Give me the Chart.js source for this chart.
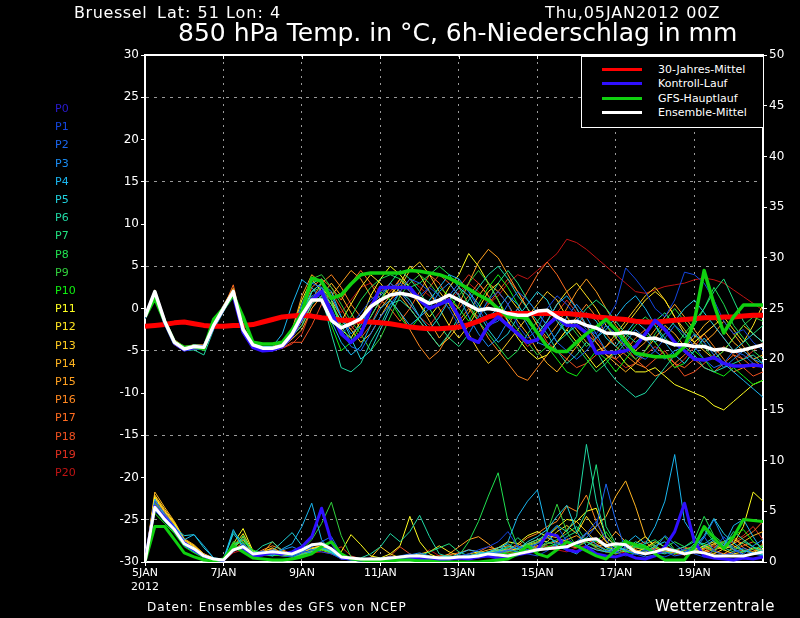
<!DOCTYPE html>
<html>
<head>
<meta charset="utf-8">
<title>850 hPa Temp. / 6h-Niederschlag Bruessel</title>
<script src="https://cdn.jsdelivr.net/npm/chart.js@4.4.0/dist/chart.umd.min.js"></script>
<style>
  body { margin: 0; background: #000; }
  #wrap { position: relative; width: 800px; height: 618px; background: #000; overflow: hidden;
          font-family: "DejaVu Sans", "Liberation Sans", sans-serif; color: #fff; }
  #c { position: absolute; left: 0; top: 0; }
  .t { position: absolute; white-space: nowrap; line-height: 1; }
  #legend { position: absolute; left: 581px; top: 56px; width: 181px; height: 70px;
            border: 1px solid #fff; background: #000; }
  .lg-line { position: absolute; left: 20px; width: 40px; height: 3px; }
  .lg-text { position: absolute; left: 76px; font-size: 11px; line-height: 1; }
</style>
</head>
<body>
<div id="wrap">
  <canvas id="c" width="800" height="618"></canvas>
  <div class="t" style="left:74px;top:5px;font-size:16px;letter-spacing:0.6px">Bruessel</div>
  <div class="t" style="left:157px;top:5px;font-size:16px;letter-spacing:1px">Lat: 51 Lon: 4</div>
  <div class="t" style="left:545px;top:5px;font-size:16px;letter-spacing:0.9px">Thu,05JAN2012 00Z</div>
  <div class="t" style="left:178px;top:20px;font-size:25px">850 hPa Temp. in °C, 6h-Niederschlag in mm</div>
  <div id="legend"></div>
  <div id="members"></div>
  <div class="t" style="left:147px;top:601px;font-size:12px;letter-spacing:1.1px">Daten: Ensembles des GFS von NCEP</div>
  <div class="t" style="left:655px;top:599px;font-size:15px;letter-spacing:0.6px">Wetterzentrale</div>
</div>
<script>
// x ticks every 2 days (8 steps of 6h), 64 steps = 5JAN 00Z .. 20JAN 18Z
const xTickSteps = [0, 8, 16, 24, 32, 40, 48, 56];
const dayLabels = ['5JAN', '7JAN', '9JAN', '11JAN', '13JAN', '15JAN', '17JAN', '19JAN'];
const yearLabel = '2012';

const memberNames = ['P0','P1','P2','P3','P4','P5','P6','P7','P8','P9','P10',
                     'P11','P12','P13','P14','P15','P16','P17','P18','P19','P20'];
const memberColors = ['#2a1ad0','#1446e0','#1a66f0','#1a8cf4','#1ab6f0','#20d0dc','#20d8a4','#20e080',
                      '#20e050','#30d03c','#10f010','#ffff20','#ffe420','#ffcc20','#ffb420','#ffa020',
                      '#ff8820','#ff6c20','#f05020','#e03020','#c01414'];

const legendNames = ['30-Jahres-Mittel', 'Kontroll-Lauf', 'GFS-Hauptlauf', 'Ensemble-Mittel'];
const legendColors = ['#ff0000', '#3010ff', '#10d010', '#ffffff'];

// 850 hPa temperature, one value per 6h step
const climTemp = [-2.1,-2.0,-1.9,-1.7,-1.6,-1.8,-2.0,-2.1, -2.1,-2.0,-2.0,-1.9,-1.6,-1.3,-1.0,-0.9,
                  -0.8,-0.9,-1.1,-1.2,-1.4,-1.4,-1.5,-1.6, -1.7,-1.8,-2.0,-2.2,-2.3,-2.4,-2.4,-2.3,
                  -2.2,-1.9,-1.5,-1.0,-0.7,-0.6,-0.6,-0.6, -0.6,-0.6,-0.6,-0.6,-0.7,-0.8,-1.0,-1.1,
                  -1.2,-1.3,-1.5,-1.6,-1.6,-1.5,-1.4,-1.3, -1.2,-1.1,-1.1,-1.0,-1.0,-0.9,-0.8,-0.8];
const controlTemp = [-1.0,1.8,-1.6,-4.1,-4.9,-4.6,-4.6,-2.0, 0.0,1.6,-2.8,-4.6,-5.0,-4.9,-4.5,-3.2,
                     -1.0,1.0,2.0,-0.5,-3.0,-4.0,-3.0,0.0, 2.5,2.5,2.5,2.5,1.0,0.0,0.5,1.0,
                     -1.0,-3.5,-4.0,-2.0,-1.0,-2.0,-3.0,-4.0, -3.7,-2.0,-1.0,-2.0,-2.0,-2.9,-5.3,-5.2,
                     -5.2,-5.0,-4.5,-3.0,-1.4,-2.5,-4.0,-5.0, -6.0,-6.1,-5.8,-6.5,-6.8,-6.8,-6.7,-6.8];
const gfsTemp = [-1.0,1.2,-1.5,-4.0,-4.6,-4.5,-4.8,-1.3, 0.0,1.6,-1.0,-4.0,-4.2,-4.2,-4.0,-2.5,
                 -0.5,3.6,3.2,1.2,1.6,2.9,4.0,4.2, 4.2,4.2,4.2,4.5,4.4,4.2,4.0,3.6,
                 3.0,2.3,1.6,1.0,0.0,-1.0,-1.0,-1.2, -2.9,-4.5,-5.1,-5.1,-4.0,-3.0,-2.2,-1.3,
                 -2.5,-4.0,-5.3,-5.5,-5.7,-5.7,-5.6,-4.5, -1.5,4.5,0.5,-2.9,-1.0,0.4,0.4,0.4];
const meanTemp = [-1.0,2.0,-1.5,-4.0,-4.8,-4.5,-4.6,-2.0, 0.0,2.0,-2.5,-4.3,-4.7,-4.7,-4.4,-3.0,
                  -0.8,1.0,1.0,-1.4,-2.3,-1.8,-1.2,0.2, 1.0,1.6,1.8,1.6,1.2,0.6,1.0,1.6,
                  1.0,0.4,-0.2,0.0,-0.2,-0.6,-0.8,-0.8, -0.3,-0.2,-1.0,-1.6,-1.5,-2.0,-2.3,-2.9,
                  -3.0,-2.8,-3.0,-3.6,-3.5,-3.9,-4.3,-4.3, -4.5,-4.5,-4.9,-4.8,-5.1,-4.9,-4.6,-4.3];
const memberTemp = [
  controlTemp,
  [-1.2,1.6,-1.8,-4.2,-5.0,-4.8,-4.9,-2.4, -0.3,1.7,-2.8,-4.6,-5.0,-5.0,-4.6,-3.4,
   -1.0,1.5,2.0,-0.5,-3.0,-2.0,-0.5,1.0, 2.0,2.5,3.0,2.0,1.5,2.5,1.5,0.0,
   -2.0,-3.0,-1.0,1.0,2.0,0.5,-2.0,-3.5, -2.5,0.0,1.5,0.5,-1.0,-2.5,-3.0,-1.5,
   0.5,4.8,3.5,2.0,0.0,-1.0,1.0,4.3, 4.0,3.0,1.0,-1.5,-3.0,-2.5,-4.0,-5.0],
  [-0.8,2.0,-1.3,-3.8,-4.7,-4.4,-4.5,-1.8, 0.2,2.2,-2.2,-4.2,-4.6,-4.6,-4.2,-2.6,
   0.5,3.0,2.5,0.0,-2.5,-4.5,-5.0,-3.0, -1.0,0.5,2.0,3.5,3.0,2.0,0.5,1.5,
   3.0,2.0,0.0,-2.0,-1.5,0.5,2.0,1.0, -0.5,-2.0,-4.0,-5.0,-6.0,-5.0,-3.5,-2.0,
   -3.0,-4.5,-5.5,-6.0,-5.0,-3.5,-2.0,-3.0, -4.5,-6.0,-7.0,-6.5,-5.0,-5.5,-6.5,-7.0],
  [-1.1,1.9,-1.6,-4.1,-4.9,-4.5,-4.6,-2.1, -0.1,1.9,-2.6,-4.4,-4.8,-4.9,-4.5,-3.1,
   -1.5,1.0,2.5,1.5,-1.0,-3.0,-2.0,0.5, 1.5,3.0,2.0,0.5,-1.0,0.0,2.0,3.0,
   1.5,-1.0,-3.0,-4.5,-3.5,-1.5,0.0,-2.0, -4.0,-4.5,-3.0,-1.0,0.5,-1.0,-3.0,-5.0,
   -5.5,-4.0,-2.5,-3.5,-5.0,-6.0,-5.0,-4.5, -3.0,-4.0,-5.5,-7.0,-6.0,-5.0,-6.0,-6.5],
  [-1.0,1.7,-1.4,-3.9,-4.6,-4.3,-4.4,-1.7, 0.3,2.1,-2.4,-4.3,-4.5,-4.5,-3.0,0.5,
   3.4,2.5,1.0,-1.5,-4.0,-5.5,-4.5,-2.0, 0.0,1.0,-0.5,-2.0,-1.0,1.0,2.5,4.0,
   3.5,2.0,0.5,-1.0,0.0,1.5,0.5,-1.5, -3.0,-1.5,0.5,1.5,0.0,-2.0,-3.5,-2.5,
   -1.0,0.5,1.5,0.0,-2.0,-4.0,-5.5,-6.5, -5.0,-3.5,-5.0,-6.5,-7.5,-8.5,-9.5,-10.5],
  [-0.9,1.8,-1.5,-4.0,-4.7,-4.6,-4.8,-2.2, -0.2,1.8,-2.7,-4.5,-4.9,-4.8,-4.4,-2.8,
   -0.5,2.0,3.0,2.0,-1.0,-3.5,-6.0,-5.0, -2.5,0.0,2.0,1.0,-1.0,-2.5,-1.0,1.0,
   2.5,1.5,-0.5,-2.5,-4.0,-3.0,-1.0,0.5, 2.0,1.0,-1.5,-3.0,-2.0,-0.5,-1.5,-3.5,
   -4.5,-3.0,-1.5,-2.5,-4.0,-3.0,-1.5,0.0, 1.0,-0.5,-2.0,-3.5,-5.0,-4.0,-3.0,-4.0],
  [-1.1,1.7,-1.7,-4.2,-5.0,-4.9,-5.5,-2.5, -0.4,1.6,-3.0,-4.7,-5.0,-5.0,-4.6,-3.3,
   -2.0,0.5,1.5,-3.0,-7.0,-7.5,-6.5,-4.0, -2.0,0.5,1.0,0.0,-1.5,-3.0,-4.5,-3.0,
   -1.0,1.0,2.5,4.0,5.0,3.5,1.5,0.0, -1.5,-3.0,-5.0,-6.5,-5.5,-4.0,-5.0,-7.0,
   -8.5,-9.5,-10.5,-10.0,-8.5,-7.0,-5.5,-4.5, -5.5,-7.0,-7.5,-7.0,-6.5,-6.0,-5.5,-6.5],
  [-1.0,1.9,-1.4,-3.9,-4.8,-4.4,-4.5,-1.9, 0.1,2.1,-2.3,-4.3,-4.7,-4.7,-4.3,-2.9,
   0.0,3.0,3.5,1.0,-2.0,-4.0,-3.0,-1.0, 1.0,3.0,4.5,3.5,2.0,0.0,-2.0,-3.5,
   -4.5,-3.0,-1.0,1.0,3.0,4.5,3.0,1.0, -0.5,-2.0,-4.0,-3.0,-1.5,0.0,1.0,0.0,
   -1.5,-3.0,-4.0,-3.0,-1.5,-0.5,-2.0,-3.5, -2.0,0.0,2.0,3.5,1.0,-1.5,-3.0,-2.0],
  [-1.2,1.6,-1.7,-4.1,-4.9,-4.7,-4.9,-2.3, -0.2,1.8,-2.6,-4.5,-4.9,-4.8,-4.5,-3.2,
   -1.0,2.0,2.5,0.5,-2.0,-1.0,1.0,2.5, 3.5,4.0,3.5,2.5,3.0,4.0,5.0,4.0,
   2.5,0.5,-1.5,-3.0,-4.5,-6.0,-5.0,-3.0, -1.5,0.0,-1.0,-3.0,-4.5,-6.0,-7.5,-6.5,
   -5.0,-3.5,-2.0,-1.0,-2.0,-3.5,-4.5,-3.0, -1.5,0.0,2.5,0.5,-2.0,-3.5,-5.0,-6.0],
  [-0.9,2.0,-1.3,-3.8,-4.6,-4.4,-4.4,-1.6, 0.3,2.2,-2.3,-4.2,-4.6,-4.6,-4.2,-2.7,
   0.5,3.5,4.0,2.5,0.5,-1.5,-3.0,-5.0, -3.5,-1.0,1.5,3.0,4.0,3.0,1.5,0.0,
   1.5,3.0,4.5,3.0,1.0,-1.0,-2.5,-4.0, -5.5,-4.5,-3.0,-1.5,-3.0,-4.5,-3.5,-2.0,
   -3.5,-5.0,-6.0,-5.0,-3.0,-1.5,0.0,-1.5, -3.0,-4.5,-6.0,-5.0,-3.5,-2.0,-1.0,-1.5],
  [-1.0,1.8,-1.6,-4.0,-4.8,-4.5,-4.6,-2.0, 0.0,2.0,-2.5,-4.4,-4.8,-4.8,-4.4,-3.0,
   -1.0,1.5,1.0,-2.0,-5.0,-4.0,-2.0,0.0, 2.0,1.0,-1.0,-2.5,-1.0,1.0,2.5,1.5,
   0.0,-1.5,0.5,2.5,4.0,2.5,0.5,-1.5, -3.0,-4.5,-6.0,-7.5,-8.0,-6.5,-5.0,-6.0,
   -7.5,-6.0,-4.5,-3.0,-4.0,-5.5,-7.0,-6.5, -5.0,-6.0,-7.5,-8.0,-7.0,-8.0,-9.0,-8.5],
  [-1.1,1.9,-1.5,-4.0,-4.8,-4.6,-4.7,-2.1, -0.1,1.9,-2.6,-4.5,-4.9,-4.8,-4.5,-3.2,
   -1.5,2.0,3.0,1.0,-2.5,-3.5,-1.5,1.5, 3.5,5.0,4.0,2.5,0.5,-1.0,0.5,2.5,
   4.0,6.5,5.0,3.0,1.0,-1.5,-3.5,-5.0, -6.0,-5.5,-4.0,-2.5,-4.0,-5.5,-7.0,-6.0,
   -5.0,-6.5,-7.5,-7.5,-7.0,-8.0,-9.0,-9.5, -10.0,-10.5,-11.5,-12.0,-11.0,-10.0,-9.0,-8.5],
  [-0.9,2.1,-1.3,-3.8,-4.6,-4.3,-4.4,-1.7, 0.2,2.2,-2.2,-4.2,-4.6,-4.6,-4.2,-2.6,
   1.0,3.5,2.0,0.5,-1.5,0.5,2.5,4.0, 3.0,1.5,3.0,5.0,4.0,2.0,0.0,-2.0,
   -3.5,-2.0,0.0,2.0,3.0,1.5,0.0,-1.5, -3.0,-1.5,0.5,2.0,3.0,1.5,0.0,-2.0,
   -3.5,-2.0,-0.5,1.0,2.0,1.0,-1.0,-3.0, -4.0,-3.0,-2.0,-1.0,-2.5,-4.0,-2.0,0.5],
  [-1.0,1.8,-1.6,-4.1,-4.8,-4.6,-4.6,-2.0, 0.0,2.0,-2.5,-4.4,-4.8,-4.8,-4.5,-3.3,
   -2.0,0.5,2.5,1.0,-1.0,-2.5,-4.0,-3.0, -1.0,1.0,2.5,4.5,5.5,4.0,2.0,0.5,
   -1.5,-3.0,-5.0,-6.5,-5.5,-4.0,-2.5,-1.0, 0.5,2.0,1.0,-1.0,-2.5,-4.0,-5.0,-4.5,
   -3.0,-1.5,0.0,1.5,2.5,1.0,-1.0,-2.5, -4.0,-5.0,-6.0,-5.0,-3.5,-2.0,-3.0,-4.0],
  [-1.2,1.7,-1.8,-4.3,-5.0,-4.8,-4.8,-2.2, -0.3,1.8,-2.7,-4.6,-5.0,-5.0,-4.6,-3.6,
   -2.5,0.0,1.5,3.0,1.5,-0.5,-2.5,-1.0, 1.0,2.5,1.5,0.0,-1.5,-3.0,-4.5,-3.5,
   -2.0,-0.5,1.5,3.0,2.0,0.5,-1.5,-3.0, -5.0,-6.5,-7.5,-6.0,-4.5,-3.0,-4.0,-5.5,
   -6.5,-7.5,-6.5,-5.0,-3.5,-2.0,-3.0,-4.5, -3.5,-2.0,-1.0,-2.5,-4.0,-5.0,-6.0,-5.5],
  [-0.8,2.2,-1.2,-3.7,-4.5,-4.3,-4.3,-1.6, 0.4,2.4,-2.1,-4.1,-4.5,-4.5,-4.1,-2.5,
   1.5,4.0,3.0,1.5,3.0,4.5,3.5,1.5, 0.0,1.5,3.5,2.0,0.5,-1.5,-3.5,-2.0,
   0.5,3.0,5.5,7.0,6.0,4.0,2.0,0.0, -2.0,-3.5,-2.0,0.0,2.0,3.5,2.0,0.0,
   -2.0,-3.5,-5.0,-4.0,-2.5,-1.0,0.5,-1.0, -2.5,-4.0,-3.0,-1.5,-3.0,-4.5,-6.0,-7.0],
  [-1.1,1.8,-1.7,-4.2,-4.9,-4.7,-4.7,-2.2, -0.2,2.0,-2.6,-4.5,-4.9,-4.9,-4.6,-3.4,
   -1.5,1.0,3.0,4.0,2.5,0.5,-1.0,0.5, 2.0,1.0,-0.5,-2.5,-4.5,-6.0,-5.0,-3.0,
   -1.5,0.0,-1.5,-3.5,-5.0,-6.5,-8.0,-8.5, -7.0,-5.5,-4.0,-2.5,-1.0,0.5,-1.0,-3.0,
   -4.5,-5.5,-6.5,-7.0,-8.0,-7.5,-6.5,-5.5, -4.0,-3.0,-4.5,-6.0,-7.5,-7.0,-6.5,-7.0],
  [-1.0,1.9,-1.5,-4.0,-4.7,-4.5,-4.5,-1.9, 0.1,2.8,-2.4,-4.3,-4.7,-4.7,-4.3,-3.1,
   -0.5,2.5,3.5,2.5,1.0,3.0,4.5,3.0, 1.0,0.0,-1.5,0.0,2.0,4.0,3.0,1.0,
   0.0,1.5,3.0,1.5,-0.5,-2.0,0.0,2.0, 4.0,5.5,4.0,2.0,0.0,-2.0,-4.0,-5.5,
   -6.0,-5.0,-3.5,-2.5,-4.0,-5.5,-6.5,-7.0, -6.0,-7.0,-7.5,-6.5,-5.5,-6.0,-7.0,-6.5],
  [-1.1,1.7,-1.6,-4.1,-4.9,-4.7,-4.8,-2.3, -0.3,1.7,-2.8,-4.6,-5.0,-5.0,-4.7,-4.0,
   -4.0,-2.0,0.5,2.0,0.0,-2.0,-3.5,-2.0, 0.5,2.0,3.5,2.5,1.0,2.5,4.0,3.0,
   1.5,0.0,-1.0,0.5,2.0,3.5,2.0,0.0, -2.0,-4.0,-5.0,-6.0,-7.0,-6.5,-5.5,-4.5,
   -3.5,-4.5,-6.0,-7.0,-6.0,-5.0,-6.5,-8.0, -7.5,-6.5,-5.5,-4.5,-5.5,-7.0,-8.0,-7.5],
  [-1.0,1.8,-1.6,-4.1,-4.8,-4.6,-4.7,-2.1, -0.1,1.9,-2.6,-4.5,-4.9,-4.9,-4.7,-4.2,
   -3.0,0.0,1.5,0.5,-1.5,-2.5,-1.0,0.5, 2.0,3.0,2.0,0.5,-1.0,-2.0,-0.5,1.0,
   2.5,4.0,3.0,1.5,0.0,-1.5,-3.0,-4.5, -3.5,-2.0,-0.5,1.0,-0.5,-2.0,-3.5,-5.0,
   -6.0,-7.0,-6.5,-5.5,-4.5,-5.5,-7.0,-6.0, -4.5,-3.0,-2.0,-3.5,-5.0,-6.0,-5.0,-4.0],
  [-1.0,1.9,-1.4,-3.9,-4.7,-4.5,-4.6,-2.0, 0.0,1.9,-2.5,-4.4,-4.8,-4.8,-4.5,-3.2,
   -1.5,0.5,2.0,1.0,-0.5,1.0,2.5,3.0, 2.0,1.0,2.0,3.5,2.5,1.5,0.5,1.0,
   2.0,3.0,2.0,0.5,1.5,3.0,4.0,3.5, 4.5,5.5,6.5,8.2,7.8,7.0,6.0,5.0,
   4.0,3.0,2.0,1.8,2.2,2.6,2.8,3.0, 3.4,3.6,3.4,3.0,2.2,1.4,0.6,-0.2]
];

// 6h precipitation in mm
const controlPrec = [0,5.5,4.4,3.3,1.9,1.2,0.6,0.2, 0.2,1.4,1.2,0.6,0.7,0.9,0.8,1.0,
                     1.5,2.5,5.3,2.0,0.4,0.3,0.2,0.3, 0.2,0.3,0.4,0.5,0.4,0.3,0.2,0.3,
                     0.4,0.3,0.5,0.6,0.4,0.5,0.7,0.9, 1.2,2.8,2.6,1.2,1.0,1.5,0.8,0.6,
                     0.5,0.8,0.4,0.3,0.6,1.5,3.0,5.8, 2.0,0.6,0.4,0.3,0.2,0.4,0.3,0.5];
const gfsPrec = [0,3.5,3.5,2.2,0.9,0.5,0.2,0.1, 0.3,1.6,1.0,0.4,0.3,0.2,0.2,0.3,
                 0.5,0.8,1.5,2.0,0.8,0.3,0.2,0.1, 0.1,0.1,0.2,0.2,0.1,0.1,0.0,0.0,
                 0.0,0.0,0.0,0.1,0.2,0.3,0.8,1.6, 0.8,0.5,1.2,2.0,1.6,1.1,0.6,0.3,
                 1.2,2.0,1.7,1.5,0.8,0.2,0.2,0.2, 1.5,3.5,2.4,1.3,2.5,4.2,4.1,4.0];
const meanPrec = [0,5.4,4.2,3.2,1.8,1.3,0.6,0.3, 0.2,1.2,1.5,0.8,0.9,1.0,0.9,0.8,
                  1.2,1.7,1.8,1.3,0.5,0.4,0.3,0.3, 0.3,0.4,0.5,0.6,0.6,0.5,0.4,0.4,
                  0.5,0.5,0.6,0.8,0.7,0.6,0.8,1.0, 1.2,1.3,1.4,1.5,1.9,2.2,2.3,1.6,
                  1.8,1.7,1.0,0.8,1.0,1.3,1.1,0.8, 1.0,0.9,0.6,0.6,0.6,0.6,0.8,1.0];
const memberPrec = [
  controlPrec,
  [0,5.0,4.2,3.0,1.7,1.1,0.5,0.2, 0.1,1.0,1.8,0.8,1.1,0.9,0.6,0.5, 0.9,1.2,1.0,0.8,0.3,0.2,0.1,0.2,
   0.3,0.5,0.4,0.3,0.6,0.5,0.2,0.3, 0.6,0.8,1.2,1.5,2.0,3.0,1.5,0.8, 0.6,1.1,1.8,2.4,1.6,2.8,4.0,2.2,
   1.0,0.6,0.8,1.2,0.7,0.5,0.9,1.3, 0.8,0.5,1.2,2.5,1.4,0.6,0.8,1.0],
  [0,6.0,4.8,3.5,2.0,1.4,0.7,0.3, 0.2,1.1,1.5,0.6,0.8,1.2,0.9,0.6, 1.0,1.5,2.0,2.5,0.8,0.4,0.3,0.2,
   0.2,0.3,0.6,0.8,0.5,0.4,0.3,0.2, 0.3,0.4,0.5,0.6,0.9,1.1,1.6,1.2, 1.8,2.6,3.6,2.0,1.5,2.4,3.5,7.7,
   4.0,1.2,0.8,0.5,0.7,1.0,0.6,0.8, 1.6,2.5,1.1,0.7,0.9,1.4,0.8,0.6],
  [0,5.2,4.0,3.0,1.6,1.0,0.5,0.2, 0.1,1.3,1.6,0.9,1.0,0.8,1.2,1.5, 1.1,0.9,1.4,1.2,0.5,0.3,0.2,0.1,
   0.2,0.4,0.3,0.7,0.9,0.6,0.4,0.3, 0.5,0.7,0.6,0.9,1.0,1.2,1.0,1.5, 1.8,2.5,1.9,1.3,2.0,2.9,1.7,1.1,
   0.9,1.5,1.0,0.7,1.3,2.6,1.8,1.0, 1.2,2.4,4.2,2.2,1.2,0.8,1.6,2.2],
  [0,6.2,4.6,3.6,2.2,2.7,1.6,0.4, 0.3,3.2,1.4,0.7,0.9,0.6,1.3,1.8, 3.5,5.8,2.2,1.0,0.4,0.3,0.2,0.3,
   0.4,0.5,0.3,0.6,0.7,0.5,0.3,0.4, 0.8,1.2,1.0,0.8,1.0,2.0,4.5,6.0, 7.1,3.0,1.5,1.2,0.8,1.6,2.2,1.4,
   1.0,1.8,2.6,1.8,3.5,6.0,10.6,4.0, 2.5,1.5,2.2,1.6,3.6,4.2,2.5,1.0],
  [0,5.6,4.4,3.4,2.6,2.7,1.4,0.4, 0.2,2.8,1.6,0.8,1.0,1.1,2.0,2.9, 1.6,1.2,1.5,0.9,0.4,0.3,0.2,0.2,
   0.3,0.4,0.4,0.5,0.4,0.3,0.5,0.6, 0.4,0.6,0.8,1.0,1.4,1.8,1.2,2.0, 2.5,3.2,4.5,5.6,3.0,1.6,1.2,1.0,
   1.4,1.2,0.8,1.0,1.6,2.0,1.1,0.8, 1.4,2.6,4.3,2.8,1.9,1.1,0.9,0.7],
  [0,5.3,4.1,3.2,1.8,1.2,0.6,0.3, 0.2,3.0,1.9,0.8,1.6,2.0,1.0,0.7, 1.0,1.6,1.8,1.1,0.5,0.3,0.4,0.8,
   1.5,2.8,2.0,3.0,4.6,2.5,0.8,0.5, 0.4,0.6,0.8,1.0,1.2,1.5,1.3,1.8, 2.2,2.6,3.6,3.0,4.5,11.6,6.0,2.5,
   1.5,1.2,2.0,1.6,1.0,0.8,1.2,1.5, 2.0,1.8,2.4,1.6,3.0,2.2,1.5,1.0],
  [0,5.4,4.3,3.1,1.7,1.1,0.5,0.2, 0.1,1.6,2.3,1.0,0.8,0.7,0.9,0.6, 0.8,1.0,1.3,1.0,0.4,0.2,0.2,0.1,
   0.2,0.3,0.5,0.4,0.6,1.0,1.4,1.8, 1.0,0.6,0.5,0.8,1.1,1.4,2.4,1.6, 1.3,2.0,1.6,2.5,3.0,5.0,9.6,3.5,
   1.8,1.0,1.5,1.8,2.2,1.4,1.0,0.9, 1.8,3.2,2.0,1.4,1.0,2.0,1.5,0.8],
  [0,5.8,4.6,3.4,1.9,1.3,0.6,0.3, 0.2,1.2,2.6,0.9,0.7,0.6,0.8,0.5, 0.7,1.1,1.4,1.0,0.5,0.3,0.2,0.2,
   0.3,0.4,0.3,0.4,0.5,0.3,0.2,0.4, 0.6,2.0,4.0,6.5,8.8,4.0,1.5,1.0, 1.2,1.8,2.2,2.8,3.5,2.0,1.6,1.2,
   1.6,2.2,1.5,1.2,0.9,1.4,2.0,1.5, 2.2,4.5,2.6,1.8,1.2,1.0,1.3,1.6],
  [0,5.1,4.0,2.9,1.6,1.0,0.5,0.2, 0.2,2.0,1.8,0.6,0.9,1.1,0.8,0.6, 1.2,2.2,3.8,5.9,2.6,0.5,0.3,0.2,
   0.2,0.3,0.4,0.5,0.6,0.4,0.3,0.3, 0.4,0.5,0.7,0.6,0.8,1.0,1.2,1.6, 2.0,3.0,5.7,3.0,1.5,2.0,1.4,1.0,
   0.8,1.2,1.6,1.3,1.8,2.5,1.2,0.8, 1.1,1.5,1.0,2.0,1.4,1.2,0.9,1.1],
  [0,4.8,3.8,2.8,1.5,0.9,0.4,0.2, 0.1,1.8,2.0,1.2,0.8,0.7,0.6,0.5, 0.6,0.9,1.2,0.9,0.3,0.2,0.1,0.1,
   0.2,0.2,0.3,0.4,0.3,0.2,0.2,0.3, 0.3,0.4,0.5,0.7,0.9,0.8,1.0,1.2, 1.0,1.5,1.8,1.4,1.9,2.4,2.0,3.0,
   1.6,1.0,0.8,1.2,1.5,1.0,0.8,1.2, 1.5,1.8,1.2,2.0,2.6,3.2,2.0,1.4],
  [0,6.4,5.0,3.8,2.0,1.4,0.7,0.3, 0.2,1.8,3.3,1.1,0.8,1.0,0.7,0.6, 0.9,1.3,1.6,1.2,1.0,2.7,1.7,0.6,
   0.4,0.8,1.6,4.5,2.0,0.8,0.4,0.6, 0.5,0.8,1.0,0.9,1.4,2.0,1.8,2.6, 3.0,2.5,3.4,4.2,4.0,5.0,5.3,2.5,
   1.5,1.2,0.9,1.4,2.0,1.5,1.0,0.8, 1.2,1.6,2.0,1.4,1.8,3.5,6.9,6.0],
  [0,5.7,4.5,3.6,2.1,1.5,0.7,0.3, 0.2,1.5,2.8,1.0,0.9,0.8,0.7,0.5, 0.8,1.0,1.2,0.9,0.5,0.4,0.3,0.3,
   0.2,0.3,0.4,0.6,0.8,1.0,1.6,1.0, 0.6,0.5,0.7,0.9,1.2,1.0,1.4,1.8, 2.2,2.0,3.0,3.6,2.8,4.5,3.2,2.0,
   1.4,1.2,1.8,2.5,1.6,1.0,0.8,1.1, 0.9,1.4,1.8,1.2,0.8,1.0,1.4,1.2],
  [0,6.6,5.2,3.9,2.2,1.6,0.8,0.3, 0.2,1.4,2.2,0.9,1.0,1.4,0.9,0.6, 0.9,1.1,1.3,1.0,0.4,0.3,0.2,0.4,
   1.5,0.8,0.4,0.3,0.5,0.4,0.3,0.2, 0.4,0.6,0.8,1.0,1.1,1.3,1.0,1.6, 1.9,2.4,2.0,3.2,4.0,3.0,2.0,1.5,
   1.2,1.0,1.4,1.2,0.9,1.3,1.1,0.7, 1.0,1.2,0.8,1.3,1.6,1.1,0.9,1.5],
  [0,6.9,5.4,4.0,2.3,1.7,0.8,0.4, 0.2,1.3,2.5,0.8,0.9,2.0,1.1,0.7, 1.0,1.4,1.6,1.1,0.5,0.3,0.3,0.2,
   0.2,0.3,0.5,0.4,0.3,0.4,0.5,0.4, 0.4,0.6,0.9,1.2,1.4,1.6,1.3,1.7, 2.0,2.6,2.4,2.0,1.8,2.8,3.5,4.5,
   6.5,8.0,5.5,2.5,1.4,1.0,1.2,0.9, 1.3,1.5,1.0,0.8,1.4,2.0,2.6,3.0],
  [0,6.3,4.9,3.7,2.1,1.5,0.7,0.3, 0.2,1.2,1.9,0.8,1.1,1.3,0.8,0.6, 0.8,1.0,1.3,0.9,0.4,0.3,0.2,0.2,
   0.3,0.3,0.4,0.5,0.6,0.5,0.4,0.8, 1.5,2.2,2.5,1.8,1.0,1.2,1.8,1.4, 1.6,1.2,1.8,2.2,2.6,2.0,1.5,1.8,
   3.0,2.0,1.2,0.9,1.1,1.4,1.0,0.8, 1.1,1.6,1.2,1.5,2.2,1.8,1.2,1.0],
  [0,6.1,4.8,3.6,2.0,1.4,0.7,0.3, 0.2,1.1,1.7,0.7,1.2,1.6,1.2,0.8, 1.1,1.3,1.5,1.0,0.4,0.3,0.2,0.2,
   0.2,0.3,0.3,0.4,0.5,0.4,0.3,0.3, 0.4,0.5,0.6,0.8,1.0,1.2,1.6,2.4, 2.8,3.5,4.0,5.5,5.0,6.6,4.0,2.0,
   1.5,1.2,0.9,1.0,1.4,1.1,0.9,1.3, 1.5,1.0,1.8,2.0,2.5,1.4,1.0,1.8],
  [0,6.5,5.1,3.8,2.2,1.6,0.8,0.3, 0.2,1.0,1.6,0.8,1.0,0.9,0.7,0.5, 0.8,1.2,1.4,1.1,0.5,0.3,0.2,0.3,
   0.2,0.3,0.4,0.5,0.4,0.5,0.6,0.7, 0.9,1.2,1.0,1.5,1.2,1.0,1.3,1.1, 1.5,1.8,2.0,1.6,1.4,2.2,1.8,1.2,
   1.0,1.4,1.6,2.0,1.2,0.9,1.1,1.5, 1.0,1.3,1.6,1.2,1.8,2.4,3.0,4.0],
  [0,5.9,4.7,3.5,2.0,1.3,0.6,0.3, 0.2,1.2,1.5,0.6,0.8,1.0,0.9,0.7, 1.3,1.0,1.2,0.8,0.4,0.3,0.2,0.2,
   0.3,0.6,1.5,0.8,0.5,0.3,0.2,0.3, 0.4,0.5,0.4,0.6,0.8,1.0,0.9,1.2, 1.4,1.6,1.2,1.8,1.5,2.0,1.6,2.5,
   1.6,1.0,1.2,0.8,1.0,1.5,1.2,0.9, 1.2,1.0,1.4,1.8,1.2,1.6,2.0,1.4],
  [0,5.6,4.4,3.3,1.9,1.3,0.6,0.3, 0.2,1.1,1.4,0.7,0.9,1.2,1.0,0.8, 1.0,1.1,1.2,1.0,1.5,0.6,0.3,0.2,
   0.2,0.3,0.4,0.3,0.4,0.5,0.4,0.3, 0.4,0.6,0.5,0.7,0.9,1.1,1.3,1.0, 1.2,1.4,1.6,2.0,1.5,1.2,1.4,1.0,
   0.8,1.2,1.0,1.4,1.2,1.0,0.8,1.2, 1.0,1.4,1.2,1.6,2.0,2.6,3.5,2.2],
  [0,5.5,4.3,3.2,1.8,1.2,0.6,0.2, 0.1,0.9,1.2,0.6,0.7,0.8,0.6,0.5, 0.7,0.9,1.0,0.8,0.4,0.3,0.2,0.2,
   0.2,0.3,0.3,0.4,0.6,1.2,0.6,0.3, 0.3,0.4,0.5,0.6,0.7,0.8,0.9,1.0, 1.1,1.3,1.2,1.0,1.4,1.6,1.2,1.0,
   0.8,1.0,1.2,0.9,1.5,1.0,0.8,0.7, 0.9,1.0,1.2,0.8,1.0,1.2,0.9,1.1]
];

const steps = controlTemp.map((v, i) => i);
const FONT = '"DejaVu Sans", "Liberation Sans", sans-serif';

// outer labels: member names and legend box
const membersDiv = document.getElementById('members');
memberNames.forEach((name, i) => {
  const el = document.createElement('div');
  el.className = 't';
  el.style.cssText = `left:55px;top:${103 + i * 18.2}px;font-size:11px;color:${memberColors[i]}`;
  el.textContent = name;
  membersDiv.appendChild(el);
});
const legendDiv = document.getElementById('legend');
legendNames.forEach((name, i) => {
  const line = document.createElement('div');
  line.className = 'lg-line';
  line.style.top = (11 + i * 14.3) + 'px';
  line.style.background = legendColors[i];
  legendDiv.appendChild(line);
  const txt = document.createElement('div');
  txt.className = 'lg-text';
  txt.style.top = (7 + i * 14.3) + 'px';
  txt.textContent = name;
  legendDiv.appendChild(txt);
});

function line(data, color, width, axis, order) {
  return {
    data: data, borderColor: color, borderWidth: width, yAxisID: axis, order: order,
    pointRadius: 0, tension: 0, fill: false, borderJoinStyle: 'round'
  };
}

const datasets = [];
memberTemp.forEach((d, i) => datasets.push(line(d, memberColors[i], 1, 'y', 20)));
memberPrec.forEach((d, i) => datasets.push(line(d, memberColors[i], 1, 'y2', 20)));
datasets.push(line(climTemp, legendColors[0], 5, 'y', 4));
datasets.push(line(controlTemp, legendColors[1], 3.5, 'y', 3));
datasets.push(line(gfsTemp, legendColors[2], 3.5, 'y', 2));
datasets.push(line(meanTemp, legendColors[3], 3.5, 'y', 1));
datasets.push(line(controlPrec, legendColors[1], 3, 'y2', 3));
datasets.push(line(gfsPrec, legendColors[2], 3, 'y2', 2));
datasets.push(line(meanPrec, legendColors[3], 3, 'y2', 1));

// frame top edge with small inward ticks
const framePlugin = {
  id: 'frame',
  afterDatasetsDraw(chart) {
    const {ctx, chartArea: a, scales} = chart;
    ctx.save();
    ctx.strokeStyle = '#fff';
    ctx.lineWidth = 2;
    ctx.beginPath();
    ctx.moveTo(a.left, a.top);
    ctx.lineTo(a.right, a.top);
    ctx.stroke();
    ctx.lineWidth = 1;
    xTickSteps.slice(1).forEach(v => {
      const x = Math.round(scales.x.getPixelForValue(v)) + 0.5;
      ctx.beginPath();
      ctx.moveTo(x, a.top);
      ctx.lineTo(x, a.top + 4);
      ctx.stroke();
    });
    ctx.restore();
  }
};

new Chart(document.getElementById('c'), {
  type: 'line',
  data: { labels: steps, datasets: datasets },
  plugins: [framePlugin],
  options: {
    responsive: false,
    animation: false,
    layout: { padding: { top: 55, left: 0, right: 0, bottom: 0 } },
    plugins: { legend: { display: false }, tooltip: { enabled: false } },
    scales: {
      x: {
        type: 'linear', min: 0, max: 63,
        afterBuildTicks: s => { s.ticks = xTickSteps.map(v => ({ value: v })); },
        afterFit: s => { s.height = 56; },
        grid: {
          color: c => (c.tick && c.tick.value === 0) ? 'rgba(0,0,0,0)' : '#9a9a9a',
          lineWidth: 1, tickColor: '#fff', tickLength: 4
        },
        border: { color: '#fff', width: 2, dash: [2, 5] },
        ticks: {
          color: '#fff', font: { family: FONT, size: 11 }, maxRotation: 0, autoSkip: false, padding: 1,
          callback: v => {
            const i = xTickSteps.indexOf(v);
            return i === 0 ? [dayLabels[0], yearLabel] : dayLabels[i];
          }
        }
      },
      y: {
        position: 'left', min: -30, max: 30,
        afterFit: s => { s.width = 145; },
        grid: {
          color: c => (c.tick && Math.abs(c.tick.value) % 10 === 5) ? '#9a9a9a' : 'rgba(0,0,0,0)',
          lineWidth: 1, tickColor: '#fff', tickLength: 4
        },
        border: { color: '#fff', width: 2, dash: [3, 5] },
        ticks: { stepSize: 5, color: '#fff', font: { family: FONT, size: 12 }, padding: 2 }
      },
      y2: {
        position: 'right', min: 0, max: 50,
        afterFit: s => { s.width = 37; },
        grid: { drawOnChartArea: false, tickColor: '#fff', tickLength: 4 },
        border: { color: '#fff', width: 2 },
        ticks: { stepSize: 5, color: '#fff', font: { family: FONT, size: 12 }, padding: 2 }
      }
    }
  }
});
</script>
</body>
</html>
